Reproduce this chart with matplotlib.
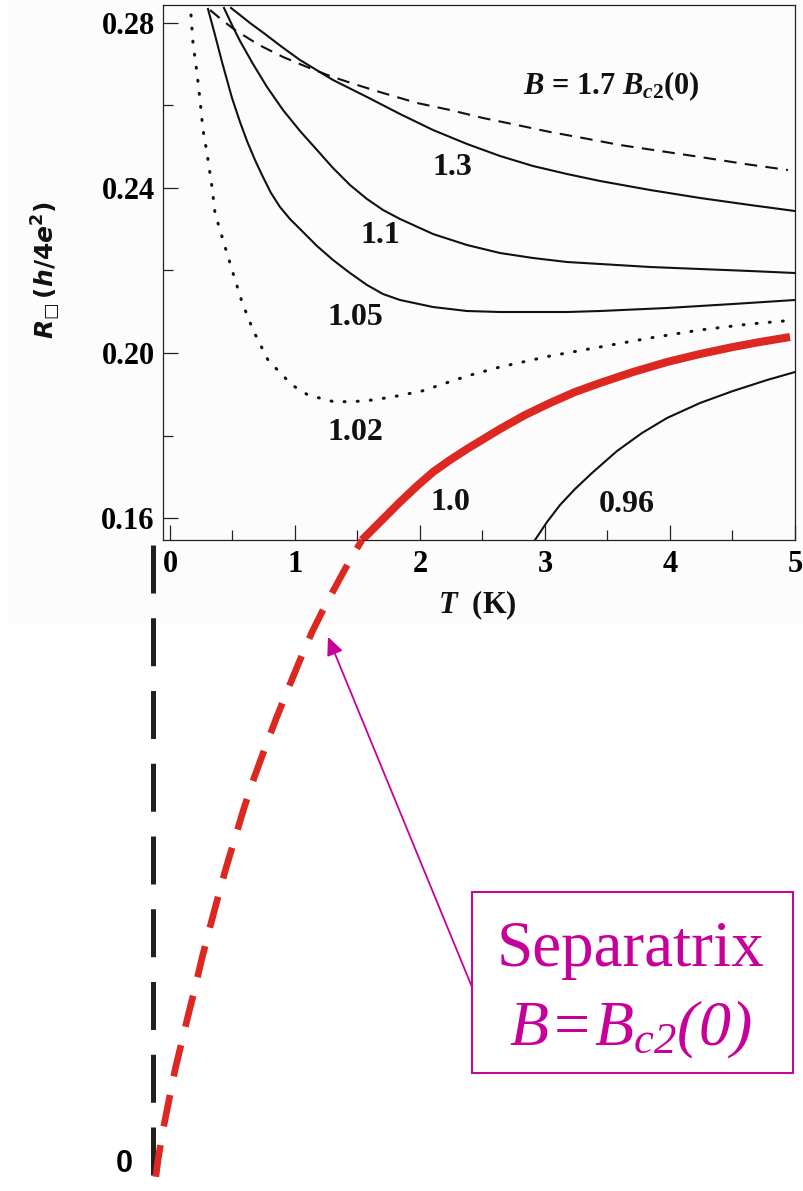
import matplotlib
matplotlib.use("Agg")
import matplotlib.pyplot as plt
from matplotlib.patches import Rectangle
from matplotlib.ticker import FixedLocator, FixedFormatter

# --- mathtext: Times-like custom set; "rm" italic so digits in math come out slanted
plt.rcParams["mathtext.fontset"] = "custom"
plt.rcParams["mathtext.rm"] = "Liberation Serif:italic"
plt.rcParams["mathtext.it"] = "Liberation Serif:italic"
plt.rcParams["mathtext.bf"] = "Liberation Serif:bold"
plt.rcParams["mathtext.bfit"] = "Liberation Serif:italic:bold"
plt.rcParams["font.family"] = ["Liberation Serif", "DejaVu Serif"]

# ---------------- data: sheet resistance R (h/4e^2) vs temperature T (K) ----------------
T_b170 = [0.32, 0.416, 0.52, 0.712, 0.904, 1.096, 1.28, 1.472, 1.704, 1.976, 2.24, 2.504,
          2.776, 3.04, 3.304, 3.6, 3.92, 4.24, 4.6, 4.944]
R_b170 = [0.28315, 0.28073, 0.27830, 0.27467, 0.27176, 0.26933, 0.26715, 0.26521, 0.26303,
          0.26061, 0.25891, 0.25697, 0.25527, 0.25358, 0.25212, 0.25042, 0.24897, 0.24752,
          0.24582, 0.24436]

T_b130 = [0.488, 0.56, 0.64, 0.76, 0.896, 1.04, 1.304, 1.576, 1.84, 2.104, 2.376, 2.64,
          2.904, 3.176, 3.44, 3.84, 4.24, 4.64, 5.0]
R_b130 = [0.28364, 0.28194, 0.28000, 0.27733, 0.27418, 0.27103, 0.26618, 0.26206, 0.25794,
          0.25406, 0.25067, 0.24776, 0.24533, 0.24339, 0.24170, 0.23952, 0.23758, 0.23588,
          0.23442]

T_b110 = [0.432, 0.496, 0.56, 0.664, 0.776, 0.904, 1.04, 1.176, 1.304, 1.44, 1.576, 1.704,
          1.84, 2.104, 2.376, 2.64, 2.904, 3.176, 3.44, 3.84, 4.24, 4.64, 5.0]
R_b110 = [0.28364, 0.27952, 0.27564, 0.27006, 0.26449, 0.25891, 0.25382, 0.24921, 0.24485,
          0.24073, 0.23733, 0.23467, 0.23249, 0.22885, 0.22618, 0.22424, 0.22303, 0.22206,
          0.22158, 0.22085, 0.22036, 0.21988, 0.21939]

T_b105 = [0.304, 0.36, 0.416, 0.496, 0.56, 0.616, 0.68, 0.736, 0.808, 0.88, 0.96, 1.04,
          1.176, 1.304, 1.44, 1.576, 1.704, 1.84, 2.104, 2.376, 2.64, 2.904, 3.176, 3.44,
          3.976, 4.504, 5.0]
R_b105 = [0.28339, 0.27709, 0.27055, 0.26182, 0.25600, 0.25139, 0.24679, 0.24315, 0.23879,
          0.23539, 0.23248, 0.23006, 0.22594, 0.22255, 0.21939, 0.21649, 0.21430, 0.21285,
          0.21115, 0.21018, 0.20994, 0.20994, 0.20994, 0.21018, 0.21091, 0.21188, 0.21285]

T_b102 = [0.168, 0.184, 0.216, 0.24, 0.264, 0.296, 0.336, 0.36, 0.424, 0.504, 0.576, 0.664,
          0.784, 0.976, 1.104, 1.32, 1.56, 1.776, 2.016, 2.376, 2.64, 3.04, 3.44, 3.84, 4.24,
          4.64, 5.0]
R_b102 = [0.28194, 0.27515, 0.26788, 0.26133, 0.25406, 0.24849, 0.24024, 0.23394, 0.22739,
          0.21939, 0.21236, 0.20558, 0.19830, 0.19224, 0.18982, 0.18812, 0.18836, 0.18933,
          0.19079, 0.19442, 0.19661, 0.19927, 0.20146, 0.20364, 0.20558, 0.20703, 0.20800]

# separatrix B = Bc2(0): measured part and its extrapolation towards T -> 0
T_b100 = [1.536, 1.616, 1.704, 1.84, 1.976, 2.104, 2.24, 2.376, 2.64, 2.84, 3.04, 3.24, 3.44,
          3.704, 3.976, 4.24, 4.504, 4.72, 4.96]
R_b100 = [0.15467, 0.15709, 0.15976, 0.16388, 0.16776, 0.17115, 0.17406, 0.17673, 0.18158,
          0.18497, 0.18788, 0.19055, 0.19273, 0.19539, 0.19782, 0.19976, 0.20146, 0.20267,
          0.20388]
T_b100_ext = [1.536, 1.44, 1.344, 1.24, 1.136, 1.04, 0.944, 0.848, 0.76, 0.672, 0.592, 0.52,
              0.448, 0.384, 0.32, 0.256, 0.2, 0.136, 0.088, 0.04, -0.008, -0.056, -0.096, -0.128]
R_b100_ext = [0.15467, 0.14982, 0.14449, 0.13867, 0.13236, 0.12558, 0.11855, 0.11127, 0.10424,
              0.09697, 0.08970, 0.08242, 0.07515, 0.06812, 0.06085, 0.05333, 0.04606, 0.03830,
              0.03224, 0.02618, 0.01891, 0.01164, 0.00436, -0.00315]

T_b096 = [2.92, 3.016, 3.12, 3.24, 3.376, 3.576, 3.776, 3.976, 4.24, 4.504, 4.776, 5.0]
R_b096 = [0.15467, 0.15903, 0.16315, 0.16703, 0.17091, 0.17624, 0.18061, 0.18424, 0.18788,
          0.19079, 0.19345, 0.19539]

# zero-resistance reference line (extended R axis)
T_zero_line = [-0.132, -0.132]
R_zero_line = [0.1535, -0.0033]

x_ticks = [0, 1, 2, 3, 4, 5]
x_tick_labels = ["0", "1", "2", "3", "4", "5"]
x_minor = [0.5, 1.5, 2.5, 3.5, 4.5]
y_ticks = [0.16, 0.20, 0.24, 0.28]
y_tick_labels = ["0.16", "0.20", "0.24", "0.28"]
y_minor = [0.18, 0.22, 0.26]

# curve labels: (text, T, R)
curve_labels = [("1.3", 2.256, 0.24315), ("1.1", 1.68, 0.22667), ("1.05", 1.48, 0.20679),
                ("1.02", 1.48, 0.17891), ("1.0", 2.24, 0.16194), ("0.96", 3.656, 0.16145)]

# arrow from the annotation box to the extrapolated separatrix
arrow_tip = (1.264, 0.1312)
arrow_tail = (2.416, 0.0463)

# ---------------- figure ----------------
W, H = 804, 1191
fig = plt.figure(figsize=(W / 100, H / 100), dpi=100)


def fx(x):
    return x / W


def fy(y):
    return 1 - y / H


RED = "#dc2820"
MAG = "#c8009a"
INK = "#111111"

# faint backdrop behind the plotted panel
fig.patches.append(Rectangle((fx(8), fy(623)), fx(W) - fx(8), fy(0) - fy(623),
                             transform=fig.transFigure, facecolor="#fcfcfc",
                             edgecolor="none", zorder=-10))

ax = fig.add_axes([fx(163), fy(540), fx(795) - fx(163), fy(5) - fy(540)])
ax.set_facecolor("none")
ax.set_xlim(-0.056, 5.0)
ax.set_ylim(0.15467, 0.28436)

for s in ax.spines.values():
    s.set_linewidth(0.9)
    s.set_color("#222222")

ax.xaxis.set_major_locator(FixedLocator(x_ticks))
ax.xaxis.set_major_formatter(FixedFormatter(x_tick_labels))
ax.xaxis.set_minor_locator(FixedLocator(x_minor))
ax.yaxis.set_major_locator(FixedLocator(y_ticks))
ax.yaxis.set_major_formatter(FixedFormatter(y_tick_labels))
ax.yaxis.set_minor_locator(FixedLocator(y_minor))
ax.tick_params(which="both", direction="in", top=False, right=False, width=0.9, color="#222222")
ax.tick_params(which="major", length=11)
ax.tick_params(which="minor", length=7.5)
ax.tick_params(axis="x", which="major", pad=7)
ax.tick_params(axis="y", which="major", pad=6)
for lab in ax.get_xticklabels() + ax.get_yticklabels():
    lab.set_fontfamily("Liberation Serif")
    lab.set_fontweight("bold")
    lab.set_fontsize(22)

# curves
ax.plot(T_b170, R_b170, color=INK, lw=1.5, dashes=(6, 4))
ax.plot(T_b130, R_b130, color=INK, lw=1.5)
ax.plot(T_b110, R_b110, color=INK, lw=1.5)
ax.plot(T_b105, R_b105, color=INK, lw=1.5)
ax.plot(T_b102, R_b102, color=INK, lw=2.2, dashes=(0.3, 4.0), dash_capstyle="round")
ax.plot(T_b096, R_b096, color=INK, lw=1.5)
ax.plot(T_b100, R_b100, color=RED, lw=5.8, solid_capstyle="butt", zorder=3)
ax.plot(T_b100_ext, R_b100_ext, color=RED, lw=4.8, linestyle=(3.3, (4.8, 2.85)),
        dash_capstyle="butt", clip_on=False, zorder=3)
ax.plot(T_zero_line, R_zero_line, color="#231f20", lw=3.6, dashes=(9.6, 4.95),
        dash_capstyle="butt", clip_on=False)

for txt, t, r in curve_labels:
    ax.text(t, r, txt, ha="center", va="baseline", fontsize=23, fontweight="bold",
            fontfamily="Liberation Serif", color=INK)

ax.text(3.532, 0.26279, r"$\mathbfit{B}$ = 1.7 $\mathbfit{B}_{\mathbfit{c}\mathbf{2}}$(0)",
        ha="center", va="baseline", fontsize=22, fontweight="bold",
        fontfamily="Liberation Serif", color=INK)

# axis titles
fig.text(fx(477), fy(613), r"$\mathbfit{T}$  (K)", ha="center", va="baseline",
         fontsize=22, fontweight="bold", fontfamily="Liberation Serif", color=INK)
fig.text(fx(46), fy(270),
         r"$\mathbfit{R}_{□}\,\mathbf{(}\mathbfit{h}\mathbf{/4}\mathbfit{e}^{\mathbf{2}}\mathbf{)}$",
         rotation=90, ha="center", va="center", fontsize=18, math_fontfamily="dejavusans",
         color=INK)

# zero mark of the extended axis
fig.text(fx(124.5), fy(1172), "0", ha="center", va="baseline", fontsize=22,
         fontweight="bold", fontfamily="Liberation Sans", color="black")

# annotation box
fig.patches.append(Rectangle((fx(472), fy(1073)), fx(793) - fx(472), fy(892) - fy(1073),
                             transform=fig.transFigure, facecolor="white",
                             edgecolor=MAG, lw=1.4, zorder=5))
fig.text(fx(631), fy(966), "Separatrix", ha="center", va="baseline", fontsize=47,
         fontfamily="Liberation Serif", color=MAG, zorder=6)
fig.text(fx(630), fy(1045), r"$B\!=\!B_{c2}(0)$", ha="center", va="baseline",
         fontsize=46, color=MAG, zorder=6)

ax.annotate("", xy=arrow_tip, xytext=arrow_tail, xycoords="data", textcoords="data",
            annotation_clip=False,
            arrowprops=dict(arrowstyle="-|>,head_length=0.55,head_width=0.25",
                            mutation_scale=20, lw=1.3, color=MAG,
                            shrinkA=0, shrinkB=0))

fig.savefig("out.png", dpi=100)
